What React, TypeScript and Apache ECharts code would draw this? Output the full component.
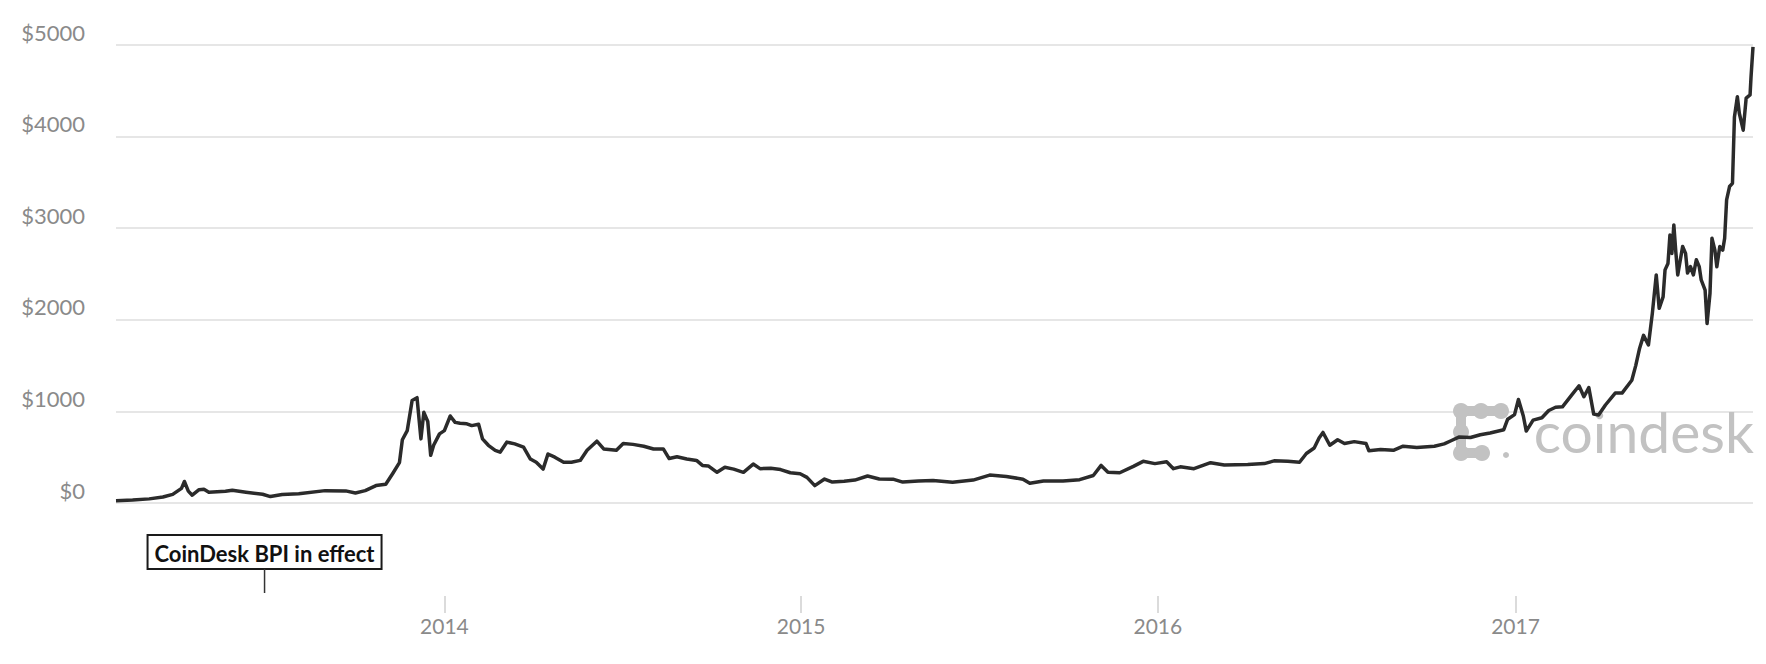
import React, { useEffect, useRef } from "react";
import * as echarts from "echarts";

const dates: string[] = [
  "2013-01-30", "2013-02-16", "2013-03-05", "2013-03-19", "2013-03-29", "2013-04-07", "2013-04-10", "2013-04-14",
  "2013-04-18", "2013-04-25", "2013-04-30", "2013-05-05", "2013-05-22", "2013-05-29", "2013-06-12", "2013-06-29",
  "2013-07-07", "2013-07-19", "2013-08-05", "2013-09-01", "2013-09-22", "2013-10-02", "2013-10-12", "2013-10-23",
  "2013-11-02", "2013-11-09", "2013-11-16", "2013-11-19", "2013-11-24", "2013-11-29", "2013-12-04", "2013-12-08",
  "2013-12-11", "2013-12-15", "2013-12-18", "2013-12-21", "2013-12-27",
  "2014-01-01", "2014-01-07", "2014-01-12", "2014-01-17", "2014-01-24", "2014-01-29", "2014-02-05", "2014-02-09",
  "2014-02-15", "2014-02-22", "2014-02-27", "2014-03-06", "2014-03-14", "2014-03-23", "2014-03-30", "2014-04-05",
  "2014-04-12", "2014-04-17", "2014-04-24", "2014-05-03", "2014-05-11", "2014-05-20", "2014-05-27", "2014-06-06",
  "2014-06-13", "2014-06-26", "2014-07-03", "2014-07-13", "2014-07-24", "2014-08-03", "2014-08-13", "2014-08-19",
  "2014-08-27", "2014-09-06", "2014-09-16", "2014-09-22", "2014-09-28", "2014-10-07", "2014-10-15", "2014-10-24",
  "2014-11-03", "2014-11-13", "2014-11-20", "2014-12-01", "2014-12-11", "2014-12-21", "2014-12-31",
  "2015-01-07", "2015-01-15", "2015-01-25", "2015-02-02", "2015-02-14", "2015-02-25", "2015-03-10", "2015-03-22",
  "2015-04-05", "2015-04-15", "2015-05-01", "2015-05-16", "2015-06-05", "2015-06-26", "2015-07-13", "2015-07-30",
  "2015-08-16", "2015-08-23", "2015-09-06", "2015-09-26", "2015-10-13", "2015-10-27", "2015-11-04", "2015-11-11",
  "2015-11-23", "2015-12-07", "2015-12-17", "2015-12-29",
  "2016-01-10", "2016-01-17", "2016-01-24", "2016-02-07", "2016-02-24", "2016-03-09", "2016-04-02", "2016-04-19",
  "2016-04-29", "2016-05-13", "2016-05-25", "2016-06-01", "2016-06-09", "2016-06-14", "2016-06-18", "2016-06-25",
  "2016-07-03", "2016-07-10", "2016-07-20", "2016-08-01", "2016-08-04", "2016-08-16", "2016-08-29", "2016-09-08",
  "2016-09-22", "2016-10-10", "2016-10-20", "2016-10-27", "2016-11-04", "2016-11-16", "2016-11-26", "2016-12-06",
  "2016-12-20", "2016-12-24", "2016-12-31",
  "2017-01-04", "2017-01-09", "2017-01-12", "2017-01-19", "2017-01-28", "2017-02-04", "2017-02-11", "2017-02-18",
  "2017-02-28", "2017-03-07", "2017-03-12", "2017-03-17", "2017-03-22", "2017-03-27", "2017-04-03", "2017-04-13",
  "2017-04-20", "2017-04-30", "2017-05-04", "2017-05-08", "2017-05-12", "2017-05-17", "2017-05-21", "2017-05-25",
  "2017-05-28", "2017-06-01", "2017-06-03", "2017-06-06", "2017-06-08", "2017-06-10", "2017-06-12", "2017-06-14",
  "2017-06-16", "2017-06-18", "2017-06-21", "2017-06-24", "2017-06-26", "2017-06-29", "2017-07-02", "2017-07-05",
  "2017-07-08", "2017-07-10", "2017-07-14", "2017-07-16", "2017-07-19", "2017-07-21", "2017-07-24", "2017-07-26",
  "2017-07-29", "2017-08-01", "2017-08-03", "2017-08-05", "2017-08-08", "2017-08-11", "2017-08-13", "2017-08-16",
  "2017-08-18", "2017-08-22", "2017-08-25", "2017-08-29", "2017-08-30", "2017-09-01",
];

const prices: number[] = [
  25, 32, 45, 65, 94, 160, 235, 130,
  85, 145, 150, 118, 128, 140, 118, 95,
  70, 92, 100, 135, 132, 110, 135, 190,
  205, 320, 440, 690, 790, 1120, 1150, 700,
  990, 890, 520, 630, 755,
  790, 950, 880, 870, 865, 845, 860, 700,
  630, 575, 555, 665, 645, 610, 480, 445,
  370, 535, 500, 445, 445, 465, 575, 675,
  590, 575, 650, 640, 620, 590, 590, 485,
  505, 480, 465, 410, 405, 335, 390, 370,
  335, 425, 375, 380, 365, 330, 320,
  280, 190, 262, 228, 237, 250, 295, 262,
  260, 228, 240, 245, 226, 250, 305, 290,
  260, 215, 240, 240, 255, 300, 410, 335,
  330, 400, 455, 430,
  450, 375, 395, 375, 440, 415, 420, 430,
  460, 455, 445, 540, 600, 710, 770, 630,
  690, 650, 670, 650, 570, 585, 575, 620,
  605, 620, 645, 680, 720, 715, 745, 765,
  800, 915, 965,
  1130, 950, 785, 905, 930, 1010, 1045, 1050,
  1185, 1280, 1160, 1260, 970, 960, 1070, 1200,
  1200, 1340, 1500, 1690, 1830, 1725, 2070, 2490,
  2125, 2250, 2545, 2615, 2925, 2725, 3035, 2745,
  2490, 2615, 2800, 2725, 2510, 2580, 2490, 2655,
  2580, 2435, 2325, 1960, 2290, 2890, 2760, 2580,
  2800, 2760, 2890, 3310, 3455, 3490, 4215, 4435,
  4255, 4070, 4420, 4455, 4655, 4980,
];

const yTicks: number[] = [0, 1000, 2000, 3000, 4000, 5000];
const axisStart = "2013-01-30";
const axisEnd = "2017-09-01";
const annotationDate = "2013-07-01";
const annotationText = "CoinDesk BPI in effect";
const watermarkText = "coindesk";

const FONT = "Lato, 'Open Sans', sans-serif";

export default function App() {
  const ref = useRef<HTMLDivElement>(null);

  useEffect(() => {
    if (!ref.current) return;
    const chart = echarts.init(ref.current, undefined, { renderer: "svg" });
    const seriesData = dates.map((d, i) => [d, prices[i]]);
    const grey = "#c2c2c2";

    chart.setOption({
      animation: false,
      backgroundColor: "#ffffff",
      grid: { left: 116, right: 13, top: 45, bottom: 161, containLabel: false },
      xAxis: {
        type: "time",
        min: axisStart,
        max: axisEnd,
        position: "bottom",
        offset: 93,
        minInterval: 365 * 24 * 3600 * 1000,
        splitNumber: 4,
        axisLine: { show: false, onZero: false },
        axisTick: { show: true, length: 17, lineStyle: { color: "#cfcfcf", width: 1.5 } },
        splitLine: { show: false },
        axisLabel: {
          margin: 19,
          color: "#8a8a8a",
          fontSize: 21,
          fontFamily: FONT,
          showMinLabel: false,
          showMaxLabel: false,
          formatter: (v: number) => String(new Date(v).getFullYear()),
        },
      },
      yAxis: {
        type: "value",
        min: yTicks[0],
        max: yTicks[yTicks.length - 1],
        interval: 1000,
        axisLine: { show: false },
        axisTick: { show: false },
        splitLine: { lineStyle: { color: "#e6e6e6", width: 2 } },
        axisLabel: {
          margin: 31,
          color: "#8a8a8a",
          fontSize: 22,
          fontFamily: FONT,
          verticalAlign: "bottom",
          padding: [0, 0, 2, 0],
          formatter: (v: number) => "$" + v,
        },
      },
      series: [
        {
          type: "line",
          data: seriesData,
          showSymbol: false,
          symbol: "none",
          z: 5,
          lineStyle: { color: "#2b2b2b", width: 3.5, join: "round" },
        },
      ],
    });

    const ax = chart.convertToPixel({ xAxisIndex: 0 }, +new Date(annotationDate)) as number;
    const boxW = 234;

    const blob = (cx: number, cy: number, r: number) => ({
      type: "circle",
      shape: { cx, cy, r },
      style: { fill: grey },
    });
    const bar = (x: number, y: number, w: number, h: number) => ({
      type: "rect",
      shape: { x, y, width: w, height: h },
      style: { fill: grey },
    });

    chart.setOption({
      graphic: [
        {
          type: "group",
          z: 0,
          silent: true,
          children: [
            bar(1461, 406, 40, 10),
            bar(1456, 411, 10, 42),
            bar(1461, 448, 22, 10),
            blob(1461, 411, 8),
            blob(1481, 411, 8),
            blob(1501, 411, 8),
            blob(1461, 432, 8),
            blob(1461, 453, 8),
            blob(1482, 453, 8),
            blob(1506, 455, 3),
            {
              type: "text",
              x: 1754,
              y: 431,
              style: {
                text: watermarkText,
                fill: grey,
                font: `400 57px ${FONT}`,
                align: "right",
                verticalAlign: "middle",
              },
            },
          ],
        },
        {
          type: "group",
          z: 10,
          silent: true,
          children: [
            {
              type: "rect",
              shape: { x: ax - boxW / 2, y: 535, width: boxW, height: 34 },
              style: { fill: "#ffffff", stroke: "#1a1a1a", lineWidth: 2 },
            },
            {
              type: "text",
              x: ax,
              y: 553,
              style: {
                text: annotationText,
                fill: "#111111",
                font: `bold 22px ${FONT}`,
                align: "center",
                verticalAlign: "middle",
              },
            },
            {
              type: "line",
              shape: { x1: ax, y1: 569, x2: ax, y2: 593 },
              style: { stroke: "#333333", lineWidth: 1.5 },
            },
          ],
        },
      ],
    });

    return () => chart.dispose();
  }, []);

  return (
    <div
      ref={ref}
      style={{ position: "fixed", left: 0, top: 0, width: 1766, height: 664, background: "#fff" }}
    />
  );
}
